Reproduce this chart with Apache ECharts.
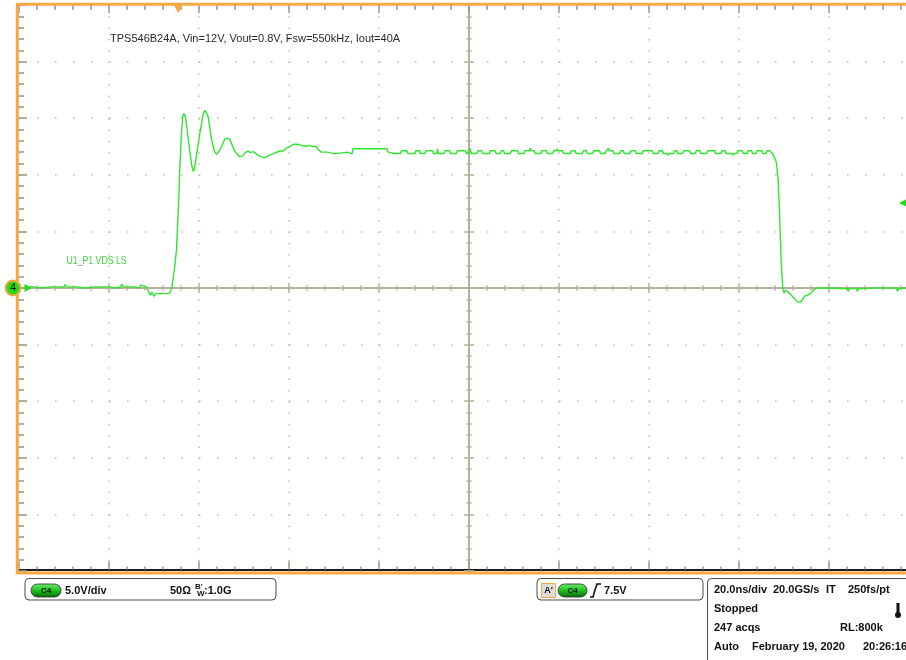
<!DOCTYPE html>
<html>
<head>
<meta charset="utf-8">
<script src="https://cdn.jsdelivr.net/npm/echarts@6/dist/echarts.min.js"></script>
<style>
  html, body { margin: 0; padding: 0; background: #fff; }
  #myChart { width: 906px; height: 660px; }
</style>
</head>
<body>
<div id="myChart"></div>
<script>
// scope screen: 10 div x 20 ns, 10 div x 5 V, centre = 0 ns / 0 V
var timeRange = [-100, 100];
var voltRange = [-25, 25];
var timePerDiv = 20;
var voltPerDiv = 5;
var triggerTime = -64.6;   // ns, orange marker on top
var triggerLevel = 7.5;    // V, green marker on right
var traceName = 'U1_P1 VDS LS';
var titleText = 'TPS546B24A, Vin=12V, Vout=0.8V, Fsw=550kHz, Iout=40A';

// C4 trace, [ns, V]
var leftFlat = [
  [-98.0, 0.10], [-96.6, 0.10], [-96.4, 0.0], [-95.2, 0.0], [-95.0, 0.10], [-93.0, 0.10],
  [-92.8, 0.25], [-92.2, 0.10], [-90.0, 0.10], [-89.8, 0.30], [-89.4, 0.10], [-87.0, 0.10],
  [-86.8, 0.0], [-85.5, 0.0], [-85.3, 0.10], [-83.0, 0.10], [-82.8, 0.25], [-82.3, 0.10],
  [-80.0, 0.10], [-79.8, 0.0], [-78.6, 0.0], [-78.4, 0.10], [-77.4, 0.10], [-77.2, 0.35],
  [-76.8, 0.10], [-74.5, 0.10], [-74.3, 0.0], [-73.2, 0.0], [-73.0, 0.25], [-72.6, 0.10],
  [-71.6, 0.10], [-71.2, -0.35], [-70.8, -0.65], [-70.5, -0.35], [-70.0, -0.75], [-69.6, -0.50],
  [-66.8, -0.50], [-66.3, -0.30]
];
var riseRing = [
  [-66.0, 0.1], [-65.8, 0.7], [-65.4, 1.9], [-65.0, 3.4], [-64.7, 6.0], [-64.5, 7.8],
  [-64.3, 10.2], [-63.9, 13.7], [-63.6, 15.2], [-63.3, 15.4], [-63.0, 15.1], [-62.7, 14.2],
  [-62.1, 12.2], [-61.6, 10.8], [-61.3, 10.3], [-61.0, 10.5], [-60.6, 11.6], [-59.8, 13.7],
  [-59.1, 15.3], [-58.7, 15.7], [-58.4, 15.75], [-58.0, 15.2], [-57.2, 13.1], [-56.6, 12.1],
  [-56.1, 11.8], [-55.5, 12.1], [-55.0, 12.5], [-54.2, 13.2], [-53.9, 13.35], [-53.3, 13.2],
  [-52.8, 12.8], [-52.2, 12.2], [-51.7, 11.9], [-51.0, 11.6], [-50.4, 11.65], [-49.6, 12.0],
  [-49.1, 12.1], [-48.6, 11.95], [-48.0, 12.05], [-47.4, 11.9], [-46.9, 11.7], [-46.2, 11.6],
  [-45.4, 11.5], [-44.8, 11.65], [-43.9, 11.8], [-43.0, 11.95], [-42.0, 12.1], [-41.3, 12.1],
  [-40.6, 12.35], [-39.8, 12.5], [-39.1, 12.7], [-38.2, 12.7], [-37.2, 12.6], [-36.3, 12.5],
  [-35.7, 12.6], [-34.6, 12.5], [-34.0, 12.5], [-33.4, 12.2], [-32.8, 12.0], [-31.5, 12.0],
  [-31.3, 11.85], [-29.8, 11.85], [-29.6, 12.0], [-27.0, 12.0], [-26.8, 11.85], [-26.0, 11.85],
  [-25.8, 12.3], [-22.5, 12.3], [-22.3, 12.4], [-21.0, 12.3], [-18.2, 12.3], [-18.0, 12.0],
  [-16.5, 11.88]
];
var highFlat = [
  [-15.2, 11.88], [-15.0, 12.12], [-13.8, 12.12], [-13.6, 11.88], [-12.0, 11.88], [-11.8, 12.12],
  [-11.0, 12.12], [-10.8, 11.88], [-9.8, 11.88], [-9.6, 12.12], [-8.1, 12.12], [-7.9, 11.88],
  [-7.1, 11.88], [-7.0, 12.3], [-6.8, 11.88], [-5.5, 11.88], [-5.3, 12.12], [-4.3, 12.12],
  [-4.1, 11.88], [-2.8, 11.88], [-2.6, 12.12], [-0.8, 12.12], [-0.6, 11.88], [0.0, 11.88],
  [0.2, 12.35], [0.5, 11.88], [1.8, 11.88], [2.0, 12.12], [2.8, 12.12], [3.0, 11.88],
  [4.5, 11.88], [4.7, 12.12], [5.8, 12.12], [6.0, 11.88], [7.0, 11.88], [7.2, 12.12],
  [7.7, 12.12], [7.9, 11.88], [9.2, 11.88], [9.4, 12.12], [10.8, 12.12], [11.0, 11.88],
  [12.2, 11.88], [12.4, 12.12], [13.4, 12.12], [13.6, 12.35], [13.8, 12.12], [14.5, 12.12],
  [14.7, 11.88], [16.0, 11.88], [16.2, 12.12], [17.2, 12.12], [17.4, 11.88], [18.6, 11.88],
  [18.8, 12.12], [19.4, 12.12], [19.6, 12.3], [19.8, 12.12], [20.8, 12.12], [21.0, 11.88],
  [22.5, 11.88], [22.7, 12.12], [23.6, 12.12], [23.8, 11.88], [25.2, 11.88], [25.4, 12.12],
  [26.1, 12.12], [26.3, 11.88], [27.5, 11.88], [27.7, 12.12], [29.0, 12.12], [29.2, 11.88],
  [30.3, 11.88], [30.5, 12.12], [30.9, 12.12], [31.0, 12.35], [31.2, 12.12], [32.0, 12.12],
  [32.2, 11.88], [33.5, 11.88], [33.7, 12.12], [34.3, 12.12], [34.5, 11.88], [35.8, 11.88],
  [36.0, 12.12], [37.0, 12.12], [37.2, 11.88], [38.5, 11.88], [38.7, 12.12], [40.7, 12.12],
  [40.9, 11.88], [42.0, 11.88], [42.2, 12.12], [43.0, 12.12], [43.2, 11.88], [44.1, 11.88],
  [44.3, 11.7], [44.5, 11.88], [45.5, 11.88], [45.7, 12.12], [46.2, 12.12], [46.4, 11.88],
  [47.5, 11.88], [47.7, 12.12], [49.0, 12.12], [49.2, 11.88], [50.3, 11.88], [50.5, 12.12],
  [51.3, 12.12], [51.5, 11.88], [52.8, 11.88], [53.0, 12.12], [54.6, 12.12], [54.8, 11.88],
  [56.0, 11.88], [56.2, 12.12], [56.9, 12.12], [57.1, 11.88], [58.5, 11.88], [58.7, 11.7],
  [58.9, 11.88], [59.5, 11.88], [59.7, 12.12], [60.7, 12.12], [60.9, 11.88], [61.8, 11.88],
  [62.0, 12.12], [62.8, 12.12], [63.0, 11.88], [63.8, 11.88], [64.0, 12.12], [65.1, 12.12],
  [65.3, 11.88], [66.0, 11.88], [66.2, 12.12], [66.8, 12.12], [67.0, 11.95]
];
var fallTail = [
  [67.5, 11.85], [67.9, 11.8], [68.3, 11.1], [68.7, 9.6], [69.0, 6.6], [69.2, 4.3],
  [69.4, 2.2], [69.7, 0.15], [70.0, -0.45], [70.3, -0.2], [70.7, -0.3], [71.1, -0.4],
  [71.5, -0.6], [71.9, -0.75], [72.5, -1.0], [73.0, -1.25], [73.6, -1.25], [74.1, -1.05],
  [74.5, -0.75], [75.3, -0.6], [76.0, -0.45], [76.6, -0.15], [77.4, 0.0], [78.2, 0.0],
  [80.0, 0.0], [80.2, -0.05], [82.5, -0.05], [82.7, -0.2], [83.0, -0.05], [84.1, -0.05],
  [84.3, -0.3], [84.6, -0.05], [86.1, -0.05], [86.3, -0.3], [86.6, -0.05], [88.0, -0.05],
  [88.2, 0.05], [90.0, 0.0], [92.5, 0.0], [92.7, 0.1], [93.0, 0.0], [95.0, 0.0],
  [95.2, -0.3], [95.5, -0.05], [97.0, 0.0], [99.5, 0.0]
];

var trace = leftFlat.concat(riseRing, highFlat, fallTail);

var GREEN = '#2fe62f';
var ORANGE = '#f6a943';
var GRID_DOT = '#c4bdab';
var AXIS_TAN = '#b8b09c';
var TICK = '#9c9482';
var FONT = 'Liberation Sans, Arial, sans-serif';

// the screen runs past the right edge of the picture, so no clamping to the container
var gridRect = { left: 19, top: 5, width: 900, height: 566, outerBoundsMode: 'none' };

function hAxis(extra) {
    var a = {
        type: 'value', min: timeRange[0], max: timeRange[1], interval: timePerDiv,
        axisLabel: { show: false }, splitLine: { show: false },
        axisLine: { show: false, onZero: false },
        axisTick: { show: true, inside: true, length: 8, lineStyle: { color: TICK, width: 1.5 } },
        minorTick: { show: true, splitNumber: 5, length: 5, lineStyle: { color: TICK, width: 1.5 } }
    };
    return Object.assign(a, extra);
}
function vAxis(extra) {
    var a = {
        type: 'value', min: voltRange[0], max: voltRange[1], interval: voltPerDiv,
        axisLabel: { show: false }, splitLine: { show: false },
        axisLine: { show: false, onZero: false },
        axisTick: { show: true, inside: true, length: 8, lineStyle: { color: TICK, width: 1.5 } },
        minorTick: { show: true, splitNumber: 5, length: 5, lineStyle: { color: TICK, width: 1.5 } }
    };
    return Object.assign(a, extra);
}
var centerTick = { show: true, length: 5, lineStyle: { color: AXIS_TAN, width: 1.5 } };
var centerMinor = { show: true, splitNumber: 5, length: 2.5, lineStyle: { color: AXIS_TAN, width: 1.5 } };

var option = {
    animation: false,
    backgroundColor: '#fff',
    grid: gridRect,
    xAxis: [
        // bottom edge (black line)
        hAxis({
            position: 'bottom', offset: -1.5,
            axisLine: { show: true, onZero: false, lineStyle: { color: '#1c1c1c', width: 2 } },
            minorTick: { show: true, splitNumber: 5, length: 3, lineStyle: { color: TICK, width: 1.5 } },
            splitLine: { show: true, lineStyle: { color: GRID_DOT, width: 1.5, type: [1.5, 9.82] } }
        }),
        // top edge
        hAxis({ position: 'top' }),
        // centre horizontal axis, ticks up and down
        hAxis({
            position: 'bottom', offset: -283,
            axisLine: { show: true, onZero: false, lineStyle: { color: AXIS_TAN, width: 2 } },
            axisTick: Object.assign({ inside: true }, centerTick),
            minorTick: centerMinor
        }),
        hAxis({
            position: 'bottom', offset: -283,
            axisTick: Object.assign({ inside: false }, centerTick),
            minorTick: centerMinor
        })
    ],
    yAxis: [
        vAxis({
            position: 'left',
            splitLine: { show: true, lineStyle: { color: GRID_DOT, width: 1.5, type: [1.5, 16.5] } }
        }),
        vAxis({
            position: 'left', offset: -450,
            axisLine: { show: true, onZero: false, lineStyle: { color: AXIS_TAN, width: 2 } },
            axisTick: Object.assign({ inside: true }, centerTick),
            minorTick: centerMinor
        }),
        vAxis({
            position: 'left', offset: -450,
            axisTick: Object.assign({ inside: false }, centerTick),
            minorTick: centerMinor
        })
    ],
    series: [{
        name: traceName,
        type: 'line',
        xAxisIndex: 0,
        yAxisIndex: 0,
        data: trace,
        showSymbol: false,
        z: 10,
        lineStyle: { color: GREEN, width: 1.4 },
        markPoint: {
            silent: true,
            data: [
                // channel 4 ground reference
                {
                    coord: [timeRange[0], 0], symbol: 'circle', symbolSize: 15, symbolOffset: [-6, 0],
                    itemStyle: { color: '#22dd11', borderColor: ORANGE, borderWidth: 2 },
                    label: { show: true, formatter: '4', color: '#111', fontSize: 11, fontFamily: FONT }
                },
                {
                    coord: [timeRange[0], 0], symbol: 'triangle', symbolRotate: -90, symbolSize: [8, 7],
                    symbolOffset: [9, 0], itemStyle: { color: '#22dd11' }, label: { show: false }
                },
                // trigger position
                {
                    coord: [triggerTime, voltRange[1]], symbol: 'triangle', symbolRotate: 180,
                    symbolSize: [9, 8], symbolOffset: [0, 4], itemStyle: { color: ORANGE }, label: { show: false }
                },
                // trigger level, mostly cut off by the right edge
                {
                    coord: [timeRange[1], triggerLevel], symbol: 'triangle', symbolRotate: 90,
                    symbolSize: [14, 14], symbolOffset: [-13, 0], itemStyle: { color: '#22dd11' }, label: { show: false }
                }
            ]
        }
    }],
    graphic: [
        // orange screen frame
        { type: 'rect', z: 5, shape: { x: 17.3, y: 4.3, width: 1000, height: 568.7 },
          style: { fill: null, stroke: ORANGE, lineWidth: 3 } },
        { type: 'text', x: 110, y: 39, z: 20,
          style: { text: titleText, fill: '#2a2a2a', font: '11px ' + FONT, verticalAlign: 'middle' } },
        { type: 'text', x: 66.5, y: 261, scaleX: 0.83, z: 20,
          style: { text: traceName, fill: '#3ad83a', font: '10.5px ' + FONT, verticalAlign: 'middle' } },

        // channel readout box
        { type: 'rect', shape: { x: 25, y: 578.5, width: 251, height: 21.5, r: 4 },
          style: { fill: '#fff', stroke: '#4a4a4a', lineWidth: 1 } },
        { type: 'rect', shape: { x: 31, y: 584, width: 30, height: 13, r: 6.5 },
          style: { fill: new echarts.graphic.LinearGradient(0, 0, 0, 1, [
              { offset: 0, color: '#6cf06c' }, { offset: 0.5, color: '#1fbf1f' }, { offset: 1, color: '#0a6a0a' }]),
            stroke: '#2a2a2a', lineWidth: 0.8 } },
        { type: 'text', x: 46, y: 590.5, style: { text: 'C4', fill: '#111', font: 'bold 8px ' + FONT, align: 'center', verticalAlign: 'middle' } },
        { type: 'text', x: 65, y: 590.5, style: { text: '5.0V/div', fill: '#111', font: 'bold 11px ' + FONT, verticalAlign: 'middle' } },
        { type: 'text', x: 170, y: 590.5, style: { text: '50\u03a9', fill: '#111', font: 'bold 11px ' + FONT, verticalAlign: 'middle' } },
        { type: 'text', x: 195, y: 587, style: { text: "B'", fill: '#111', font: 'bold 8px ' + FONT, verticalAlign: 'middle' } },
        { type: 'text', x: 197, y: 594, style: { text: 'W', fill: '#111', font: 'bold 8px ' + FONT, verticalAlign: 'middle' } },
        { type: 'text', x: 204, y: 590.5, style: { text: ':1.0G', fill: '#111', font: 'bold 11px ' + FONT, verticalAlign: 'middle' } },

        // trigger readout box
        { type: 'rect', shape: { x: 537, y: 578.5, width: 166, height: 21.5, r: 4 },
          style: { fill: '#fff', stroke: '#4a4a4a', lineWidth: 1 } },
        { type: 'rect', shape: { x: 541.5, y: 583.5, width: 14, height: 14 },
          style: { fill: '#dcdcdc', stroke: ORANGE, lineWidth: 1 } },
        { type: 'text', x: 548.5, y: 590.5, style: { text: "A'", fill: '#111', font: 'bold 9px ' + FONT, align: 'center', verticalAlign: 'middle' } },
        { type: 'rect', shape: { x: 558, y: 584, width: 29, height: 13, r: 6.5 },
          style: { fill: new echarts.graphic.LinearGradient(0, 0, 0, 1, [
              { offset: 0, color: '#6cf06c' }, { offset: 0.5, color: '#1fbf1f' }, { offset: 1, color: '#0a6a0a' }]),
            stroke: '#2a2a2a', lineWidth: 0.8 } },
        { type: 'text', x: 572.5, y: 590.5, style: { text: 'C4', fill: '#111', font: 'bold 8px ' + FONT, align: 'center', verticalAlign: 'middle' } },
        { type: 'polyline', shape: { points: [[590, 597], [593, 597], [595, 590], [597, 584], [601, 584]] },
          style: { stroke: '#111', lineWidth: 1.6, fill: null } },
        { type: 'text', x: 604, y: 590.5, style: { text: '7.5V', fill: '#111', font: 'bold 11px ' + FONT, verticalAlign: 'middle' } },

        // timebase box
        { type: 'rect', shape: { x: 707.5, y: 578.5, width: 230, height: 100, r: 4 },
          style: { fill: '#fff', stroke: '#4a4a4a', lineWidth: 1 } },
        { type: 'text', x: 714, y: 590, style: { text: '20.0ns/div', fill: '#111', font: 'bold 11px ' + FONT, verticalAlign: 'middle' } },
        { type: 'text', x: 773, y: 590, style: { text: '20.0GS/s', fill: '#111', font: 'bold 11px ' + FONT, verticalAlign: 'middle' } },
        { type: 'text', x: 826, y: 590, style: { text: 'IT', fill: '#111', font: 'bold 11px ' + FONT, verticalAlign: 'middle' } },
        { type: 'text', x: 848, y: 590, style: { text: '250fs/pt', fill: '#111', font: 'bold 11px ' + FONT, verticalAlign: 'middle' } },
        { type: 'text', x: 714, y: 609, style: { text: 'Stopped', fill: '#111', font: 'bold 11px ' + FONT, verticalAlign: 'middle' } },
        { type: 'rect', shape: { x: 896.5, y: 603, width: 3, height: 11 }, style: { fill: '#111' } },
        { type: 'circle', shape: { cx: 898, cy: 615, r: 3 }, style: { fill: '#111' } },
        { type: 'text', x: 714, y: 628, style: { text: '247 acqs', fill: '#111', font: 'bold 11px ' + FONT, verticalAlign: 'middle' } },
        { type: 'text', x: 840, y: 628, style: { text: 'RL:800k', fill: '#111', font: 'bold 11px ' + FONT, verticalAlign: 'middle' } },
        { type: 'text', x: 714, y: 647, style: { text: 'Auto', fill: '#111', font: 'bold 11px ' + FONT, verticalAlign: 'middle' } },
        { type: 'text', x: 752, y: 647, style: { text: 'February 19, 2020', fill: '#111', font: 'bold 11px ' + FONT, verticalAlign: 'middle' } },
        { type: 'text', x: 863, y: 647, style: { text: '20:26:16', fill: '#111', font: 'bold 11px ' + FONT, verticalAlign: 'middle' } }
    ]
};

var myChart = echarts.init(document.getElementById('myChart'));
myChart.setOption(option);

window.onresize = function () {
    myChart.resize();
}
</script>
</body>
</html>
